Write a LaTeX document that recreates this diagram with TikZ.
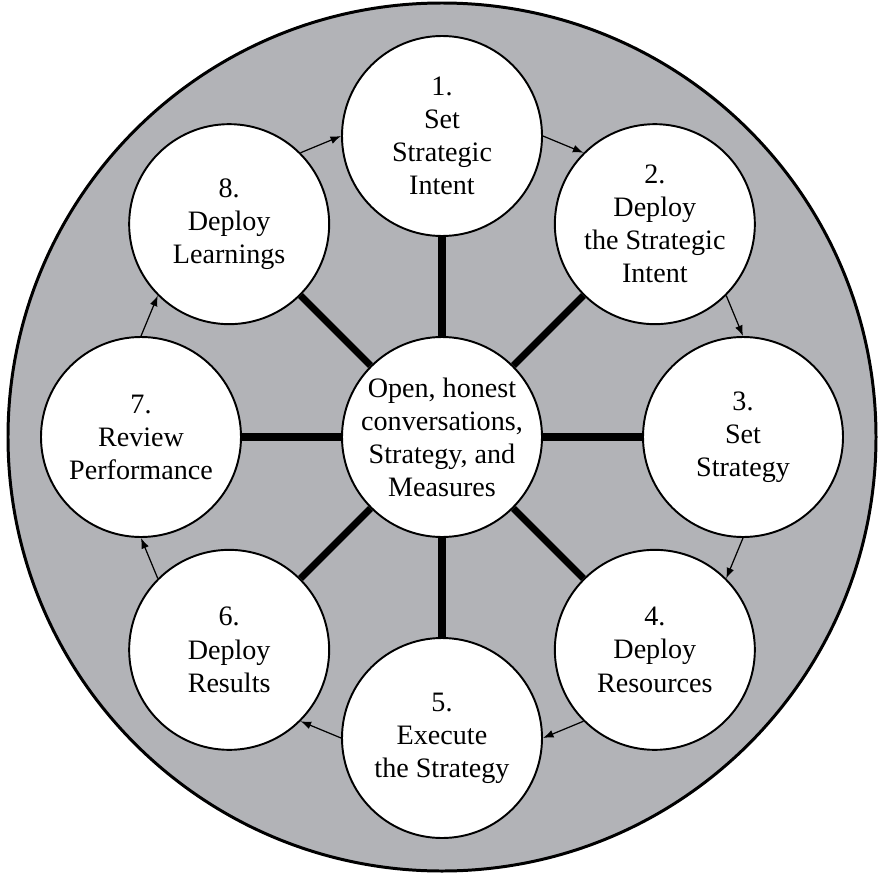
\documentclass[tikz,border=0pt]{standalone}
\usepackage{fontspec}
\setmainfont{Liberation Serif}
\usetikzlibrary{arrows.meta}
\definecolor{ringgray}{RGB}{178,179,183}

\begin{document}
\begin{tikzpicture}
    [%%%%%%%%%%%%%%%%%%%%%%%%%%%%%%
        x=2cm, y=2cm,
        stage/.style={circle,draw=black,line width=1.1pt,fill=white,minimum size=4cm,
                      inner sep=0pt,align=center,font=\fontsize{16}{18.8}\selectfont},
        hub/.style={stage,inner sep=-3pt},
        spoke/.style={line width=4pt},
        flow/.style={line width=0.7pt,-{Latex[length=6pt,width=4.5pt]}},
    ]%%%%%%%%%%%%%%%%%%%%%%%%%%%%%%

\useasboundingbox (-4.42,-4.36) rectangle (4.36,4.37);
\draw[line width=1.7pt,fill=ringgray] (0,0) circle (4.34);

\node[hub] (core) at (0,0) {Open, honest\\conversations,\\Strategy, and\\Measures};

\foreach \n/\txt in {1/{Set\\Strategic\\Intent},
                     2/{Deploy\\the Strategic\\Intent},
                     3/{Set\\Strategy},
                     4/{Deploy\\Resources},
                     5/{Execute\\the Strategy},
                     6/{Deploy\\Results},
                     7/{Review\\Performance},
                     8/{Deploy\\Learnings}}
    \node[stage] (s\n) at ({135-45*\n}:3.01) {\n.\\\txt};

% spokes to the hub
\foreach \n in {1,...,8}
    \draw[spoke] (core) -- (s\n);

% cycle arrows
\foreach \a/\b/\p/\q in {1/2/0/135, 2/3/-45/90, 3/4/-90/45, 4/5/-135/0,
                         5/6/180/-45, 6/7/135/-90, 7/8/90/-135, 8/1/45/180}
    \draw[flow] (s\a.\p) -- (s\b.\q);
\end{tikzpicture}
\end{document}
